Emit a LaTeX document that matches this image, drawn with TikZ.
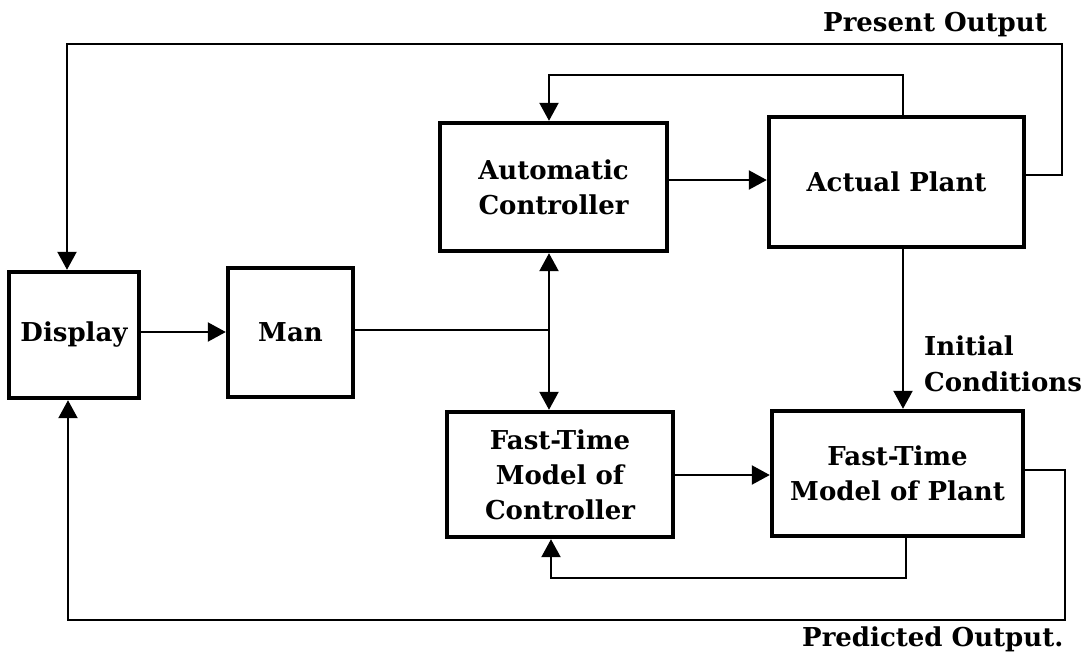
\documentclass[tikz,border=0pt]{standalone}
\usepackage{fontspec}
\setmainfont{DejaVu Serif}
\usetikzlibrary{arrows.meta}
\begin{document}
\begin{tikzpicture}[x=1pt,y=-1pt,
  txt/.style={font=\fontsize{26}{35}\selectfont\bfseries},
  blk/.style={draw, line width=4.4pt, align=center, inner sep=0pt, txt},
  tip/.style={Triangle[length=18pt,width=19pt]},
  wire/.style={line width=2.2pt},
  arr/.style={wire, -{Triangle[length=18pt,width=19pt]}},
  lbl/.style={inner sep=0pt, txt}]
  \useasboundingbox (0,0) rectangle (1090,656);

  % blocks
  \node[blk, minimum width=130pt, minimum height=126pt] (disp) at (74,335) {Display};
  \node[blk, minimum width=125pt, minimum height=129pt] (man) at (290.5,332.5) {Man};
  \node[blk, minimum width=227pt, minimum height=128pt] (ac) at (553.5,187) {Automatic\\Controller};
  \node[blk, minimum width=255pt, minimum height=130pt] (plant) at (896.5,182) {Actual Plant};
  \node[blk, minimum width=226pt, minimum height=125pt] (fc) at (560,474.5) {Fast-Time\\Model of\\Controller};
  \node[blk, minimum width=251pt, minimum height=125pt] (fp) at (897.5,473.5) {Fast-Time\\Model of Plant};

  % routing points
  \coordinate (j) at (549,330);
  \coordinate (poR) at (1062,44);
  \coordinate (poL) at (67,44);
  \coordinate (fbA) at (903,75);
  \coordinate (prR) at (1065,620);
  \coordinate (prL) at (68,620);
  \coordinate (fbB) at (906,578);

  % present output back to the display
  \draw[arr] (plant.east |- 0,175) -| (poR) -- (poL) -- (disp.north -| poL);
  % plant feedback to the automatic controller
  \draw[arr] (plant.north -| fbA) -- (fbA) -- (fbA -| j) -- (ac.north -| j);
  % forward paths
  \draw[arr] (ac.east |- 0,180) -- (plant.west |- 0,180);
  \draw[arr] (plant.south -| fbA) -- (fp.north -| fbA);
  \draw[arr] (disp.east |- 0,332) -- (man.west |- 0,332);
  \draw[wire] (man.east |- j) -- (j);
  \draw[wire, {Triangle[length=18pt,width=19pt]}-{Triangle[length=18pt,width=19pt]}] (ac.south -| j) -- (fc.north -| j);
  \draw[arr] (fc.east |- 0,475) -- (fp.west |- 0,475);
  % model feedback to the fast-time controller
  \draw[arr] (fp.south -| fbB) -- (fbB) -- (fbB -| 551,0) -- (fc.south -| 551,0);
  % predicted output back to the display
  \draw[arr] (fp.east |- 0,470) -| (prR) -- (prL) -- (disp.south -| prL);

  % labels
  \node[lbl, anchor=base west] (present) at (823,31) {Present Output};
  \node[lbl, anchor=base west] (init1) at (924,355) {Initial};
  \node[lbl, anchor=base west] (init2) at (924,391) {Conditions};
  \node[lbl, anchor=base west] (predicted) at (802,646) {Predicted Output.};
\end{tikzpicture}
\end{document}
